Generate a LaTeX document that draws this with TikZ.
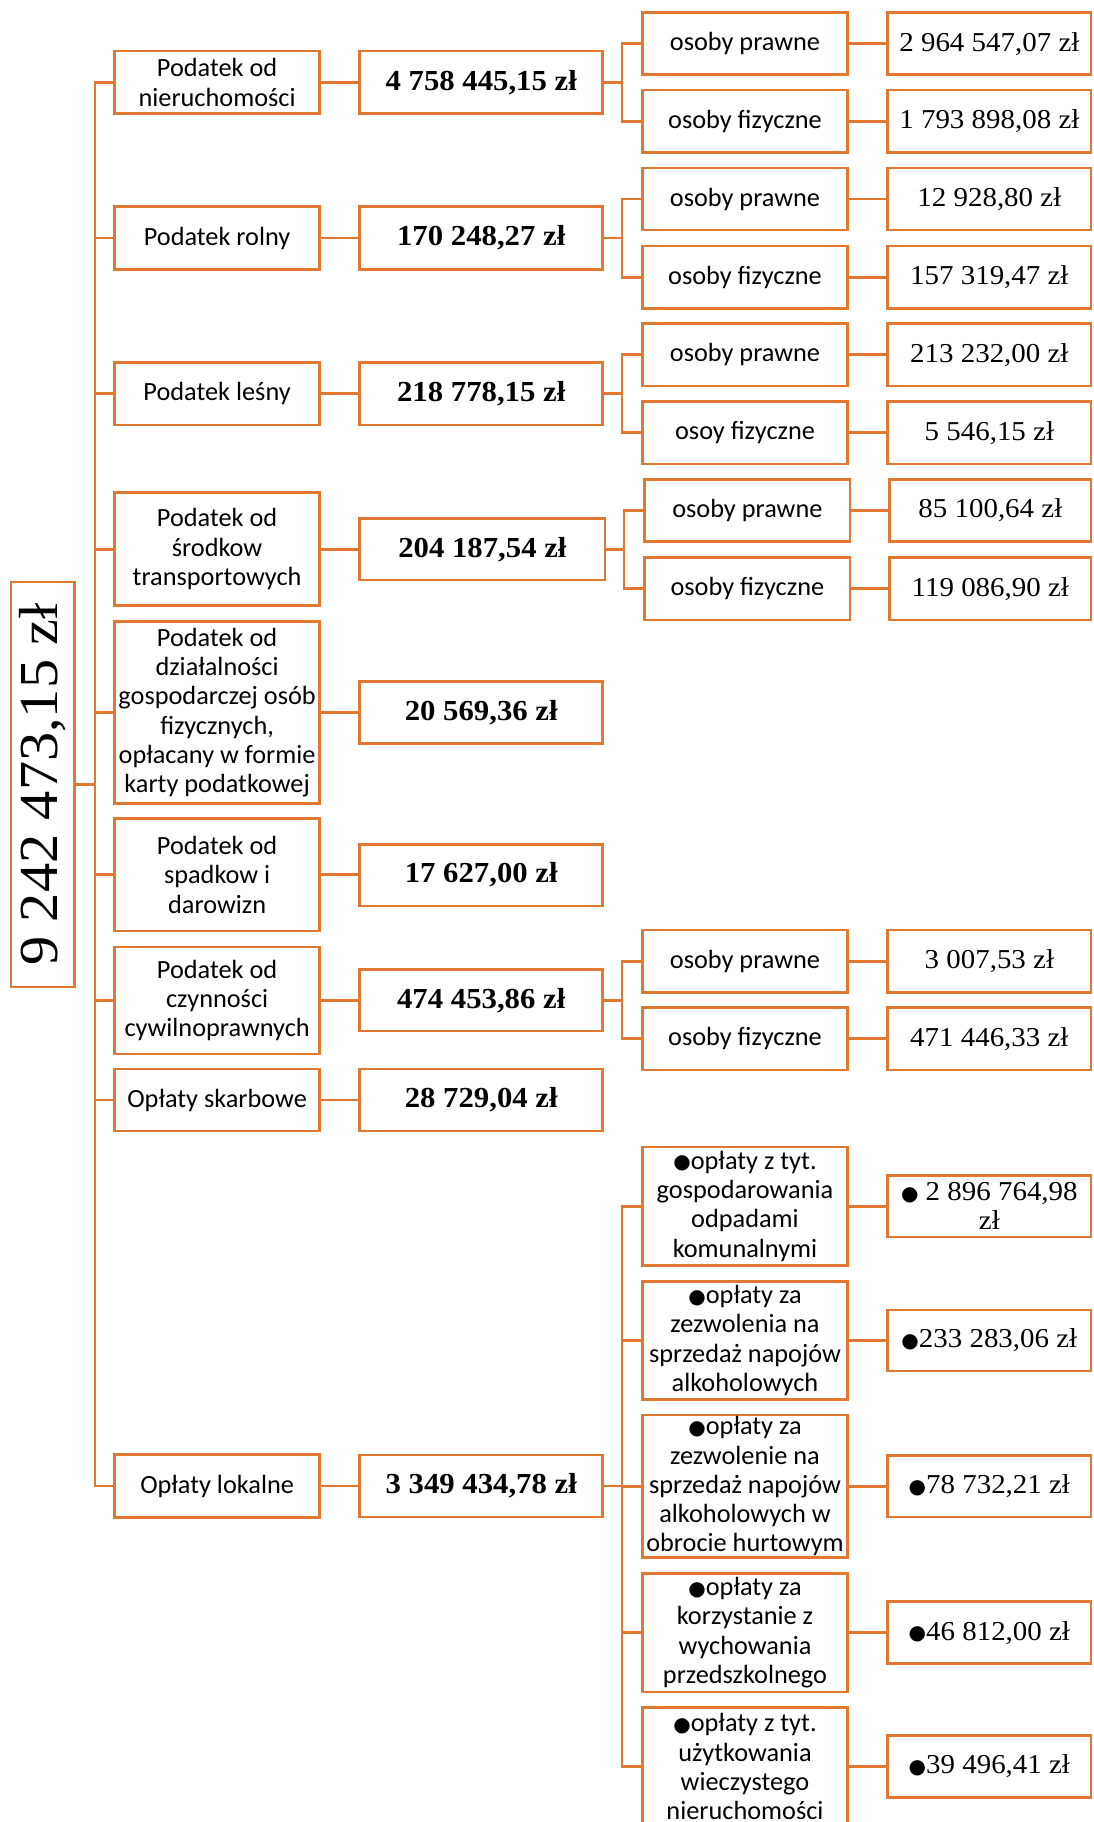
\documentclass[tikz,border=0pt]{standalone}
\usepackage{fontspec}
\usepackage{graphicx}
\newfontfamily\carl{Carlito}
\newfontfamily\serf[FakeStretch=1.06]{Liberation Serif}
\newfontfamily\dejav{DejaVu Sans}
\newcommand\sansf{\carl\fontsize{26.3}{29.3}\selectfont}
\newcommand\numf{\serf\fontsize{27.3}{29.3}\selectfont}
\newcommand\bnumf{\serf\bfseries\fontsize{29}{30}\selectfont}
\newcommand\bigf{\serf\fontsize{55}{60}\selectfont}
\newcommand\blt{\raisebox{0.5pt}{\dejav\fontsize{20}{20}\selectfont ●}}
\definecolor{orng}{RGB}{224,120,48}
\tikzset{
  bx/.style={draw=orng, line width=2.8pt, inner sep=0pt, align=center, text=black, fill=white},
  mainbox/.style={bx, minimum width=204.8pt, font=\sansf},
  amtbox/.style={bx, minimum width=242.8pt, font=\bnumf},
  subbox/.style={bx, minimum width=205.4pt, font=\sansf},
  valbox/.style={bx, minimum width=203.3pt, font=\numf},
  ln/.style={draw=orng, line width=2.8pt, line join=miter}
}
\begin{document}
\begin{tikzpicture}[x=1pt, y=-1pt]
\useasboundingbox (0,0) rectangle (1093,1822);
\clip (0,0) rectangle (1093,1822);

% total
\node[bx, minimum width=63.3pt, minimum height=405pt] (total) at (42.65,784.5) {\rotatebox{90}{\bigf 9 242 473,15 zł}};

% main boxes
\node[mainbox, minimum height=62.7pt] (b1) at (217.1,82.35) {Podatek od\\nieruchomości};
\node[mainbox, minimum height=62.6pt] (b2) at (217.1,238) {Podatek rolny};
\node[mainbox, minimum height=62.7pt] (b3) at (217.1,393.7) {Podatek leśny};
\node[mainbox, minimum height=113pt] (b4) at (217.1,549.2) {Podatek od\\środkow\\transportowych};
\node[mainbox, minimum height=181.6pt] (b5) at (217.1,712.5) {Podatek od\\działalności\\gospodarczej osób\\fizycznych,\\opłacany w formie\\karty podatkowej};
\node[mainbox, minimum height=112.3pt] (b6) at (217.1,874.85) {Podatek od\\spadkow i\\darowizn};
\node[mainbox, minimum height=107pt] (b7) at (217.1,1000.5) {Podatek od\\czynności\\cywilnoprawnych};
\node[mainbox, minimum height=62pt] (b8) at (217.1,1100) {Opłaty skarbowe};
\node[mainbox, minimum height=62.7pt] (b9) at (217.1,1486) {Opłaty lokalne};

% amount boxes
\node[amtbox, minimum height=62.7pt] (a1) at (481.2,82.35) {4 758 445,15 zł};
\node[amtbox, minimum height=62.6pt] (a2) at (481.2,238) {170 248,27 zł};
\node[amtbox, minimum height=62.7pt] (a3) at (481.2,393.7) {218 778,15 zł};
\node[amtbox, minimum height=61.7pt, minimum width=245.2pt] (a4) at (482.4,549.2) {204 187,54 zł};
\node[amtbox, minimum height=62.3pt] (a5) at (481.2,712.5) {20 569,36 zł};
\node[amtbox, minimum height=61.7pt] (a6) at (481.2,875.15) {17 627,00 zł};
\node[amtbox, minimum height=61.7pt] (a7) at (481.2,1000.2) {474 453,86 zł};
\node[amtbox, minimum height=62pt] (a8) at (481.2,1100) {28 729,04 zł};
\node[amtbox, minimum height=62pt] (a9) at (481.2,1486) {3 349 434,78 zł};

% sub boxes
\node[subbox, minimum height=62pt] (s1a) at (745,43.7) {osoby prawne};
\node[subbox, minimum height=62.7pt] (s1b) at (745,121.35) {osoby fizyczne};
\node[subbox, minimum height=62pt] (s2a) at (745,199) {osoby prawne};
\node[subbox, minimum height=62.7pt] (s2b) at (745,277.35) {osoby fizyczne};
\node[subbox, minimum height=62.7pt] (s3a) at (745,354.65) {osoby prawne};
\node[subbox, minimum height=62.7pt] (s3b) at (745,432.65) {osoy fizyczne};
\node[subbox, minimum height=62.4pt, minimum width=205.3pt] (s4a) at (747.35,510.5) {osoby prawne};
\node[subbox, minimum height=62.7pt, minimum width=205.3pt] (s4b) at (747.35,588.65) {osoby fizyczne};
\node[subbox, minimum height=62.3pt] (s7a) at (745,961.2) {osoby prawne};
\node[subbox, minimum height=62.3pt] (s7b) at (745,1038.8) {osoby fizyczne};

% value boxes
\node[valbox, minimum height=62pt] (v1a) at (989.35,43.7) {2 964 547,07 zł};
\node[valbox, minimum height=62.7pt] (v1b) at (989.35,121.35) {1 793 898,08 zł};
\node[valbox, minimum height=62pt] (v2a) at (989.35,199) {12 928,80 zł};
\node[valbox, minimum height=62.7pt] (v2b) at (989.35,277.35) {157 319,47 zł};
\node[valbox, minimum height=62.7pt] (v3a) at (989.35,354.65) {213 232,00 zł};
\node[valbox, minimum height=62.7pt] (v3b) at (989.35,432.65) {5 546,15 zł};
\node[valbox, minimum height=62.4pt, minimum width=201.3pt] (v4a) at (990.35,510.5) {85 100,64 zł};
\node[valbox, minimum height=62.7pt, minimum width=201.3pt] (v4b) at (990.35,588.65) {119 086,90 zł};
\node[valbox, minimum height=62.3pt] (v7a) at (989.35,961.2) {3 007,53 zł};
\node[valbox, minimum height=62.3pt] (v7b) at (989.35,1038.8) {471 446,33 zł};

% local fees
\node[subbox, minimum height=118.3pt] (L1) at (745,1206.15) {\blt opłaty z tyt.\\gospodarowania\\odpadami\\komunalnymi};
\node[subbox, minimum height=117.6pt] (L2) at (745,1340.5) {\blt opłaty za\\zezwolenia na\\sprzedaż napojów\\alkoholowych};
\node[subbox, minimum height=142.7pt] (L3) at (745,1486.35) {\blt opłaty za\\zezwolenie na\\sprzedaż napojów\\alkoholowych w\\obrocie hurtowym};
\node[subbox, minimum height=118.7pt] (L4) at (745,1632.65) {\blt opłaty za\\korzystanie z\\wychowania\\przedszkolnego};
\node[subbox, minimum height=118.7pt] (L5) at (745,1766.65) {\blt opłaty z tyt.\\użytkowania\\wieczystego\\nieruchomości};

\node[valbox, minimum height=61.7pt] (V1) at (989.35,1206.15) {\blt{} 2 896 764,98\\zł};
\node[valbox, minimum height=61pt] (V2) at (989.35,1340.5) {\blt 233 283,06 zł};
\node[valbox, minimum height=61.3pt] (V3) at (989.35,1486.35) {\blt 78 732,21 zł};
\node[valbox, minimum height=62pt] (V4) at (989.35,1632.7) {\blt 46 812,00 zł};
\node[valbox, minimum height=62pt] (V5) at (989.35,1766.3) {\blt 39 496,41 zł};

% trunk
\coordinate (tr) at (95,0);
\draw[ln] (b1.west) -- (b1.west -| tr) -- (b9.west -| tr) -- (b9.west);
\foreach \b in {b2,b3,b4,b5,b6,b7,b8}
  \draw[ln] (\b.west) -- (\b.west -| tr);
\draw[ln] (total.east) -- (total.east -| tr);

% main to amount
\foreach \i in {1,...,9}
  \draw[ln] (b\i.east) -- (b\i.east -| a\i.west);

% brackets
\coordinate (k) at (622,0);
\coordinate (k4) at (624,0);
\foreach \g in {1,2,3,7} {
  \draw[ln] (s\g a.west) -- (s\g a.west -| k) -- (s\g b.west -| k) -- (s\g b.west);
  \draw[ln] (a\g.east) -- (a\g.east -| k);
  \draw[ln] (s\g a.east) -- (s\g a.east -| v\g a.west);
  \draw[ln] (s\g b.east) -- (s\g b.east -| v\g b.west);
}
\draw[ln] (s4a.west) -- (s4a.west -| k4) -- (s4b.west -| k4) -- (s4b.west);
\draw[ln] (a4.east) -- (a4.east -| k4);
\draw[ln] (s4a.east) -- (s4a.east -| v4a.west);
\draw[ln] (s4b.east) -- (s4b.east -| v4b.west);

\draw[ln] (L1.west) -- (L1.west -| k) -- (L5.west -| k) -- (L5.west);
\draw[ln] (a9.east) -- (a9.east -| k);
\foreach \j in {2,3,4}
  \draw[ln] (L\j.west) -- (L\j.west -| k);
\foreach \j in {1,...,5}
  \draw[ln] (L\j.east) -- (L\j.east -| V\j.west);
\end{tikzpicture}
\end{document}
